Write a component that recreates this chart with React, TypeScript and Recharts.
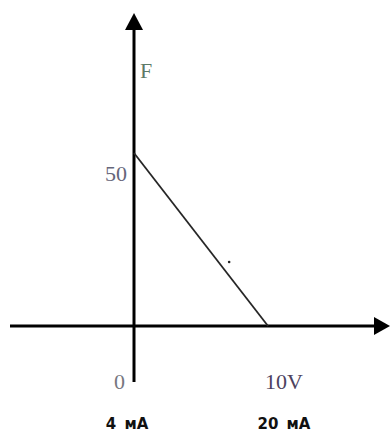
import { LineChart, Line, XAxis, YAxis, ReferenceLine, ReferenceDot } from "recharts";

// voltage (V) vs force F
const volts = [0, 10];
const force = [50, 0];
const voltLabels = ["0", "10V"];
const currentLabels = ["4 мА", "20 мА"];
const forceTick = 50;
const forceTickLabel = "50";
const axisName = "F";
const strayDot = { v: 7.1, f: 18.5 };

const data = volts.map((v, i) => ({ v, f: force[i] }));

const serif = "'Liberation Serif', 'DejaVu Serif', serif";
const sans = "'DejaVu Sans', sans-serif";

function VoltTick(props: any) {
  const { x, y, payload } = props;
  const i = volts.indexOf(payload.value);
  if (i < 0) return null;
  const first = i === 0;
  return (
    <g>
      <text x={first ? x - 9 : x - 3} y={y + 7} textAnchor={first ? "end" : "start"}
        fontFamily={serif} fontSize={22} fill={first ? "#77777f" : "#4d4260"}>
        {voltLabels[i]}
      </text>
      <text x={first ? x - 7 : x + 16} y={y + 47} textAnchor="middle"
        fontFamily={sans} fontSize={15} fontWeight="bold" fill="#111" style={{ wordSpacing: 3 }}>
        {currentLabels[i]}
      </text>
    </g>
  );
}

function VerticalAxis(props: any) {
  const { x1, y1, y2 } = props;
  const top = Math.min(y1, y2);
  const bottom = Math.max(y1, y2);
  return (
    <g>
      <line x1={x1} y1={top + 14} x2={x1} y2={bottom} stroke="#000" strokeWidth={3} />
      <polygon points={`${x1},${top} ${x1 - 9},${top + 17} ${x1 + 9},${top + 17}`} fill="#000" />
      <text x={x1 + 6} y={top + 65} fontFamily={serif} fontSize={22} fill="#5d7a68">{axisName}</text>
    </g>
  );
}

function HorizontalAxis(props: any) {
  const { x1, x2, y1 } = props;
  const left = Math.min(x1, x2);
  const right = Math.max(x1, x2);
  return (
    <g>
      <line x1={left} y1={y1} x2={right - 13} y2={y1} stroke="#000" strokeWidth={3} />
      <polygon points={`${right},${y1} ${right - 16},${y1 - 9} ${right - 16},${y1 + 9}`} fill="#000" />
    </g>
  );
}

function ForceTick(props: any) {
  const { cx, cy } = props;
  return (
    <text x={cx - 7} y={cy + 28} textAnchor="end" fontFamily={serif} fontSize={22} fill="#66667a">
      {forceTickLabel}
    </text>
  );
}

export default function App() {
  return (
    <div style={{ position: "absolute", left: 0, top: 0, width: 390, height: 432, background: "#fff" }}>
      <LineChart width={390} height={432} data={data} margin={{ top: 13, right: 0, bottom: 0, left: 10 }}>
        <XAxis dataKey="v" type="number" domain={[-9.254, 19.104]} allowDataOverflow ticks={volts}
          interval={0} axisLine={false} tickLine={false} tickSize={0} tickMargin={0} height={50} tick={<VoltTick />} />
        <YAxis type="number" domain={[-16.18, 90.47]} allowDataOverflow hide />
        <ReferenceLine y={0} shape={(p: any) => <HorizontalAxis {...p} />} />
        <ReferenceLine x={0} shape={(p: any) => <VerticalAxis {...p} />} />
        <Line type="linear" dataKey="f" stroke="#262626" strokeWidth={1.8} dot={false} activeDot={false}
          isAnimationActive={false} />
        <ReferenceDot x={0} y={forceTick} shape={(p: any) => <ForceTick {...p} />} />
        <ReferenceDot x={strayDot.v} y={strayDot.f} r={1.3} fill="#222" stroke="none" />
      </LineChart>
    </div>
  );
}
